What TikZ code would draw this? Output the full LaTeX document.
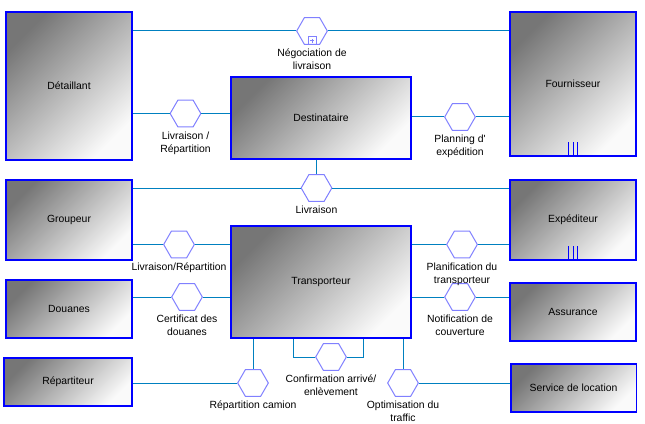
\documentclass[tikz,border=0pt]{standalone}
\usepackage{fontspec}
\setmainfont{Liberation Sans}
\usetikzlibrary{shapes.geometric}
\definecolor{boxblue}{RGB}{0,0,255}
\definecolor{hexblue}{RGB}{128,128,255}
\definecolor{linkblue}{RGB}{0,128,192}
\definecolor{boxdark}{RGB}{118,118,118}
\definecolor{boxlight}{RGB}{250,250,250}

\begin{document}
\begin{tikzpicture}[x=0.75pt, y=-0.75pt,
    actor/.style={draw=boxblue, line width=1pt, top color=boxdark, bottom color=boxlight, shading angle=45, inner sep=0pt, font=\fontsize{7.8}{9.75}\selectfont},
    usecase/.style={regular polygon, regular polygon sides=6, minimum size=23pt, inner sep=0pt, draw=hexblue, line width=0.75pt, fill=white},
    link/.style={draw=linkblue, line width=0.75pt},
    lbl/.style={align=center, inner sep=0pt, font=\fontsize{7.8}{9.75}\selectfont}]
    \useasboundingbox (0,0) rectangle (645,424);
    % actors
    \node[actor, minimum width=94.5pt, minimum height=111pt] (det) at (69,86) {Détaillant};
    \node[actor, minimum width=135pt, minimum height=61.5pt] (dest) at (321,118) {Destinataire};
    \node[actor, minimum width=94.5pt, minimum height=108pt] (four) at (573,84) {Fournisseur};
    \node[actor, minimum width=94.5pt, minimum height=60pt] (grp) at (69,220) {Groupeur};
    \node[actor, minimum width=135pt, minimum height=84pt] (trans) at (321,282) {Transporteur};
    \node[actor, minimum width=94.5pt, minimum height=60pt] (exp) at (573,220) {Expéditeur};
    \node[actor, minimum width=94.5pt, minimum height=43.5pt] (dou) at (69,309) {Douanes};
    \node[actor, minimum width=94.5pt, minimum height=43.5pt] (ass) at (573,312) {Assurance};
    \node[actor, minimum width=96pt, minimum height=36pt] (rep) at (68,382) {Répartiteur};
    \node[actor, minimum width=94pt, minimum height=36pt] (svc) at (573.5,388) {Service de location};
    \foreach \dx in {-4.5,0,4.5} {
        \draw[boxblue, line width=0.75pt] ([xshift=\dx*0.75pt, yshift=1.5pt]four.south) -- ++(0,-13);
        \draw[boxblue, line width=0.75pt] ([xshift=\dx*0.75pt, yshift=1.5pt]exp.south) -- ++(0,-13);
    }
    % use cases
    \node[usecase] (neg) at (312,31) {};
    \node[usecase] (livrep) at (185.5,113.5) {};
    \node[usecase] (plan) at (460,117) {};
    \node[usecase] (liv) at (316.5,188) {};
    \node[usecase] (livrep2) at (179,244.5) {};
    \node[usecase] (planif) at (462,244.5) {};
    \node[usecase] (cert) at (187,297) {};
    \node[usecase] (notif) at (460,297) {};
    \node[usecase] (conf) at (331,357) {};
    \node[usecase] (rcam) at (253,383) {};
    \node[usecase] (opt) at (403,383) {};
    \draw[hexblue, line width=0.75pt] (neg.south) ++(-4,0) rectangle ++(8,-8);
    \draw[hexblue, line width=0.6pt] (neg.south) ++(0,-2) -- ++(0,-4) ++(-2,2) -- ++(4,0);
    % labels
    \node[lbl, below=2.5pt] (lneg) at (neg.south) {Négociation de\\livraison};
    \node[lbl, below=3pt] (llivrep) at (livrep.south) {Livraison /\\Répartition};
    \node[lbl, below=3pt] (lplan) at (plan.south) {Planning d\textquotesingle\\expédition};
    \node[lbl, below=3pt] (lliv) at (liv.south) {Livraison};
    \node[lbl, below=3pt] (llivrep2) at (livrep2.south) {Livraison/Répartition};
    \node[lbl, below=3pt] (lplanif) at (planif.south) {Planification du\\transporteur};
    \node[lbl, below=3pt] (lcert) at (cert.south) {Certificat des\\douanes};
    \node[lbl, below=3pt] (lnotif) at (notif.south) {Notification de\\couverture};
    \node[lbl, below=3pt] (lconf) at (conf.south) {Confirmation arrivé/\\enlèvement};
    \node[lbl, below=3pt] (lrcam) at (rcam.south) {Répartition camion};
    \node[lbl, below=3pt] (lopt) at (opt.south) {Optimisation du\\traffic};
    % links
    \draw[link] (det.east |- neg) -- (neg.west);
    \draw[link] (neg.east) -- (four.west |- neg);
    \draw[link] (det.east |- livrep) -- (livrep.west);
    \draw[link] (livrep.east) -- (dest.west |- livrep);
    \draw[link] (dest.east |- plan) -- (plan.west);
    \draw[link] (plan.east) -- (four.west |- plan);
    \draw[link] (liv |- dest.south) -- (liv.north);
    \draw[link] (grp.east |- liv) -- (liv.west);
    \draw[link] (liv.east) -- (exp.west |- liv);
    \draw[link] (grp.east |- livrep2) -- (livrep2.west);
    \draw[link] (livrep2.east) -- (trans.west |- livrep2);
    \draw[link] (trans.east |- planif) -- (planif.west);
    \draw[link] (planif.east) -- (exp.west |- planif);
    \draw[link] (dou.east |- cert) -- (cert.west);
    \draw[link] (cert.east) -- (trans.west |- cert);
    \draw[link] (trans.east |- notif) -- (notif.west);
    \draw[link] (notif.east) -- (ass.west |- notif);
    \draw[link] (trans.south -| conf.west) ++(-22,0) |- (conf.west);
    \draw[link] (trans.south -| conf.east) ++(17,0) |- (conf.east);
    \draw[link] (rcam |- trans.south) -- (rcam.north);
    \draw[link] (rep.east |- rcam) -- (rcam.west);
    \draw[link] (opt |- trans.south) -- (opt.north);
    \draw[link] (opt.east) -- (svc.west |- opt);
\end{tikzpicture}
\end{document}
